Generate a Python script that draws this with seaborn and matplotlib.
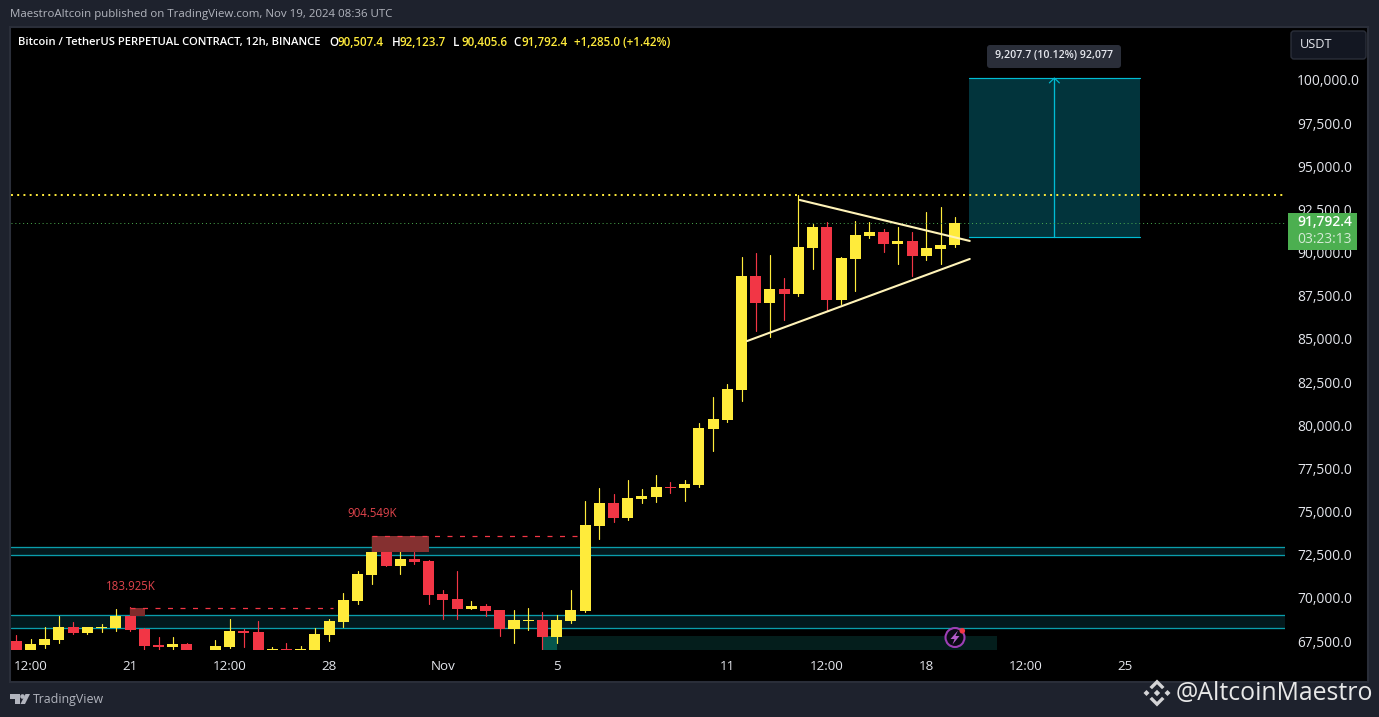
import matplotlib
matplotlib.use("Agg")
import matplotlib.pyplot as plt
from matplotlib.patches import Rectangle, FancyBboxPatch, Circle, Polygon
from matplotlib.transforms import ScaledTranslation
import pandas as pd
import seaborn as sns

# 12h candles (USDT). The first ones run below the pane.
opens = [67588, 66900, 67356, 67645, 68398, 68051, 68340, 68340, 69035, 68283,
         67356, 67240, 67414, 66800, 66900, 67240, 68167, 68109, 66950, 67124,
         66950, 66950, 67935, 68688, 69904, 71411,
         72743, 71932, 72338, 72222, 70310, 70020, 69441, 69615, 69383, 68283,
         68746, 68804, 67819, 68746, 69325, 74249, 75582, 74713, 75814, 75930,
         76509, 76451, 76625, 79870, 80391, 82129, 88734, 87168, 87980, 87690,
         90357, 91575, 87342, 89719, 91053, 91285, 90589, 90763, 89893, 90299,
         90507.4]
closes = [66900, 67414, 67703, 68398, 68051, 68398, 68398, 69035, 68225, 67298,
          67240, 67414, 66900, 66500, 67298, 68167, 68051, 66900, 67124, 66950,
          67124, 67993, 68746, 69962, 71469, 72743,
          71932, 72338, 72164, 70252, 69962, 69441, 69615, 69325, 68283, 68804,
          68804, 67819, 68804, 69383, 74307, 75582, 74713, 75872, 75988, 76509,
          76451, 76683, 79928, 80449, 82187, 88734, 87168, 87980, 87690, 90415,
          91575, 87342, 89777, 91111, 91285, 90589, 90763, 89893, 90357, 90531,
          91792.4]
highs = [67935, 67703, 68398, 69035, 68688, 68398, 68572, 69441, 69557, 68340,
         67819, 67819, 67472, 66850, 67645, 68862, 68283, 68746, 67240, 67472,
         67298, 68340, 68862, 70368, 71643, 73670,
         72801, 72975, 72743, 72280, 70541, 71643, 69904, 69731, 69383, 69383,
         69499, 69267, 69093, 70541, 75698, 76451, 76104, 76915, 76393, 77204,
         76799, 76915, 80217, 81723, 82476, 89835, 90067, 89951, 88618, 93428,
         91749, 91865, 89835, 91923, 91865, 91459, 91575, 91285, 92444, 92733,
         92123.7]
lows = [66800, 66700, 67182, 67500, 68000, 68000, 68109, 68167, 68167, 66900,
        66900, 66900, 66800, 66300, 66800, 67200, 67240, 66800, 66900, 66900,
        66900, 66900, 67588, 68398, 69731, 70889,
        71932, 71469, 72048, 69731, 68862, 68862, 69441, 69035, 67877, 67472,
        68225, 66900, 67472, 68630, 69267, 73496, 74481, 74597, 75582, 75640,
        76162, 75698, 76509, 78595, 80275, 81491, 85546, 85199, 86183, 87574,
        89139, 86705, 87110, 87864, 90937, 90125, 89429, 88734, 89661, 89429,
        90405.6]

time_ticks = [1, 8, 15, 22, 30, 38, 50, 57, 64, 71, 78]
time_labels = ["12:00", "21", "12:00", "28", "Nov", "5", "11", "12:00", "18", "12:00", "25"]
price_ticks = [67500, 70000, 72500, 75000, 77500, 80000, 82500, 85000,
               87500, 90000, 92500, 95000, 97500, 100000]

BULL = "#FFEB3B"
BEAR = "#F23645"
CYAN = "#00BCD4"
TEAL_LINE = "#0A9DAB"
PANE_BG = "#000000"
PAGE_BG = "#1E222D"
TEXT = "#E4E6EC"

sns.set_theme(style="dark", rc={"figure.facecolor": PAGE_BG, "axes.facecolor": PANE_BG})
plt.rcParams["font.family"] = ["Open Sans", "DejaVu Sans"]

W, H = 1379, 717
fig = plt.figure(figsize=(W / 100, H / 100), dpi=100)

# black pane behind price and time axes
pane = fig.add_axes([10 / W, 1 - 682 / H, 1358 / W, 655 / H], facecolor=PANE_BG)
pane.set_xticks([])
pane.set_yticks([])
for s in pane.spines.values():
    s.set_color("#2A2E39")
    s.set_linewidth(1.5)

ax = fig.add_axes([11 / W, 1 - 650 / H, 1274 / W, 623 / H], facecolor="none")

df = pd.DataFrame({"idx": range(len(opens)), "open": opens, "close": closes, "high": highs, "low": lows})
df["bottom"] = df[["open", "close"]].min(axis=1)
df["body"] = (df["close"] - df["open"]).abs().clip(lower=45)
df["up"] = df["close"] >= df["open"]

ax.set_xlim(-0.373, 89.22)
ax.set_ylim(67066, 103157)

# zones and levels sit under the candles
ax.axhspan(72590, 73060, color="#03191D", lw=0, zorder=0.5)
ax.axhspan(68320, 69080, color="#03191D", lw=0, zorder=0.5)
for lvl in [72590, 73060, 68320, 69080]:
    ax.axhline(lvl, color=TEAL_LINE, lw=0.95, zorder=1)
ax.add_patch(Rectangle((37.0, 67066), 32.0, 810, color="#041E1C", lw=0, zorder=0.7))
ax.add_patch(Rectangle((37.0, 67066), 1.0, 810, color="#06564C", lw=0, zorder=0.8))

# wicks, one line per candle
wicks = df.melt(id_vars=["idx", "up"], value_vars=["high", "low"], value_name="price")
for is_up, color in [(True, BULL), (False, BEAR)]:
    sns.lineplot(data=wicks[wicks["up"] == is_up], x="idx", y="price", units="idx", estimator=None,
                 color=color, lw=0.85, ax=ax, legend=False, zorder=2)

# bodies
for is_up, color in [(True, BULL), (False, BEAR)]:
    part = df[df["up"] == is_up]
    sns.barplot(data=part, x="idx", y="body", bottom=part["bottom"].values, native_scale=True,
                width=0.775, color=color, saturation=1, errorbar=None, linewidth=0, ax=ax, zorder=3)

ax.set_xlim(-0.373, 89.22)
ax.set_ylim(67066, 103157)

# volume boxes
ax.add_patch(Rectangle((8, 69035), 1.05, 485, color="#7F2B2B", lw=0, zorder=3.5))
ax.add_patch(Rectangle((25, 72743), 4.0, 930, color="#853030", lw=0, zorder=3.5))
sns.lineplot(x=[8, 22.3], y=[69520, 69520], color=BEAR, lw=0.9, ls=(0, (4, 6)), ax=ax, zorder=3.5)
sns.lineplot(x=[25, 39.5], y=[73670, 73670], color=BEAR, lw=0.9, ls=(0, (4, 6)), ax=ax, zorder=3.5)
ax.text(8.05, 70760, "183.925K", color="#E0444C", fontsize=8.3, ha="center", va="center")
ax.text(25.0, 75000, "904.549K", color="#E0444C", fontsize=8.3, ha="center", va="center")

# triangle
sns.lineplot(x=[55.1, 67.05], y=[93135, 90763], color="#FFF3B8", lw=1.5, ax=ax, zorder=4)
sns.lineplot(x=[51.4, 67.05], y=[84967, 89719], color="#FFF3B8", lw=1.5, ax=ax, zorder=4)

# long position box, +9,207.7 from 90,991
ax.add_patch(Rectangle((67.0, 90991), 12.03, 9207.7, color="#02343C", lw=0, zorder=1.5))
ax.plot([67.0, 79.03], [100199, 100199], color=CYAN, lw=0.85, zorder=2)
ax.plot([67.0, 79.03], [90991, 90991], color=CYAN, lw=0.85, zorder=2)
ax.plot([73.0, 73.0], [90991, 100199], color=CYAN, lw=0.95, zorder=2)
ax.plot([72.65, 73.0, 73.35], [99920, 100199, 99920], color=CYAN, lw=0.85, zorder=2)

# level lines
ax.axhline(93424, color=BULL, lw=1.4, ls=(0, (1.0, 2.2)), zorder=2.5)
ax.axhline(91792.4, color="#4CAF50", lw=0.7, ls=(0, (1, 3)), zorder=2.5)

# axes furniture
ax.set_xticks(time_ticks)
ax.set_xticklabels(time_labels, color=TEXT, fontsize=9.6, weight="medium")
ax.yaxis.tick_right()
ax.set_yticks(price_ticks)
ax.set_yticklabels([f"{p:,.1f}" for p in price_ticks], color=TEXT, fontsize=9.9, ha="left", weight="medium")
ax.tick_params(axis="x", length=0, pad=7)
ax.tick_params(axis="y", length=0, pad=8.6)
lift = ScaledTranslation(0, 1.5 / 100, fig.dpi_scale_trans)
for lab in ax.get_yticklabels():
    lab.set_transform(lab.get_transform() + lift)
ax.set_xlabel("")
ax.set_ylabel("")
ax.grid(False)
for s in ax.spines.values():
    s.set_visible(False)


def px_text(x, y, s, color=TEXT, size=8.0, ha="left", **kw):
    return fig.text(x / W, 1 - y / H, s, color=color, fontsize=size, ha=ha, va="center", **kw)


# overlay in pixel coordinates for the header, badges and watermark
over = fig.add_axes([0, 0, 1, 1], facecolor="none")
over.set_xlim(0, W)
over.set_ylim(H, 0)
over.axis("off")

over.add_patch(FancyBboxPatch((1288, 213), 69, 37, boxstyle="square,pad=0", color="#4CAF50", lw=0))
px_text(1297, 222.5, "91,792.4", color="#FFFFFF", size=9.9, weight="semibold", zorder=5)
px_text(1297, 239.5, "03:23:13", color="#D5EBD6", size=9.9, weight="medium", zorder=5)

over.add_patch(FancyBboxPatch((989, 47), 130, 19, boxstyle="round,pad=2,rounding_size=3", color="#2A2E39", lw=0))
px_text(1054, 56, "9,207.7 (10.12%) 92,077", color="#E6E8EE", size=7.7, ha="center", weight="semibold")

over.add_patch(FancyBboxPatch((1293, 33), 71, 24, boxstyle="round,pad=2,rounding_size=3",
                              facecolor="#131722", edgecolor="#2A2E39", lw=1))
px_text(1300, 45, "USDT", color=TEXT, size=9.2)

px_text(10, 15, "MaestroAltcoin published on TradingView.com, Nov 19, 2024 08:36 UTC", color="#B2B5BE", size=8.28)
px_text(18, 42, "Bitcoin / TetherUS PERPETUAL CONTRACT, 12h, BINANCE", color="#FFFFFF", size=8.1, weight="semibold")
for x, s, c in [(329.5, "O", "#FFFFFF"), (338, "90,507.4", BULL), (391.5, "H", "#FFFFFF"), (400, "92,123.7", BULL),
                (453, "L", "#FFFFFF"), (462, "90,405.6", BULL), (513, "C", "#FFFFFF"), (522, "91,792.4", BULL),
                (574.5, "+1,285.0 (+1.42%)", BULL)]:
    px_text(x, 42, s, color=c, size=8.4, weight="semibold")

# lightning badge
over.add_patch(Circle((955, 637.5), 9.5, facecolor="#0A0A14", edgecolor="#9C3FB5", lw=1.5))
over.add_patch(Polygon([(958, 630.5), (950.5, 639), (954.5, 639), (952.5, 644.5), (959.5, 636), (955.5, 636)],
                       color="#B45CCB", lw=0))
over.add_patch(Circle((962.3, 630.8), 2.8, color="#F23645", lw=0, zorder=5))

# TradingView logo and name
over.add_patch(Polygon([(10, 694), (20, 694), (20, 704), (15, 704), (15, 698.5), (10, 698.5)], color="#B2B5BE", lw=0))
over.add_patch(Circle((22.5, 696.5), 2.3, color="#B2B5BE", lw=0))
over.add_patch(Polygon([(25.5, 694), (30, 694), (25, 704), (20.5, 704)], color="#B2B5BE", lw=0))
px_text(33, 700, "TradingView", color="#B2B5BE", size=8.9)

# watermark, the exchange mark plus the handle
cx, cy = 1157, 693
logo = "#D4D4D6"
for dx, dy, r in [(0, 0, 3.2), (-10.5, 0, 3), (10.5, 0, 3)]:
    over.add_patch(Polygon([(cx + dx, cy + dy - r), (cx + dx + r, cy + dy), (cx + dx, cy + dy + r), (cx + dx - r, cy + dy)],
                           color=logo, lw=0))
for sgn in (-1, 1):
    over.add_patch(Polygon([(cx, cy + sgn * 13.5), (cx + 7.5, cy + sgn * 6), (cx + 5, cy + sgn * 3.8), (cx, cy + sgn * 8.8),
                            (cx - 5, cy + sgn * 3.8), (cx - 7.5, cy + sgn * 6)], color=logo, lw=0))
px_text(1176, 693, "@AltcoinMaestro", color="#E8E8E8", size=17.95)

fig.savefig("out.png", dpi=100, facecolor=PAGE_BG)
